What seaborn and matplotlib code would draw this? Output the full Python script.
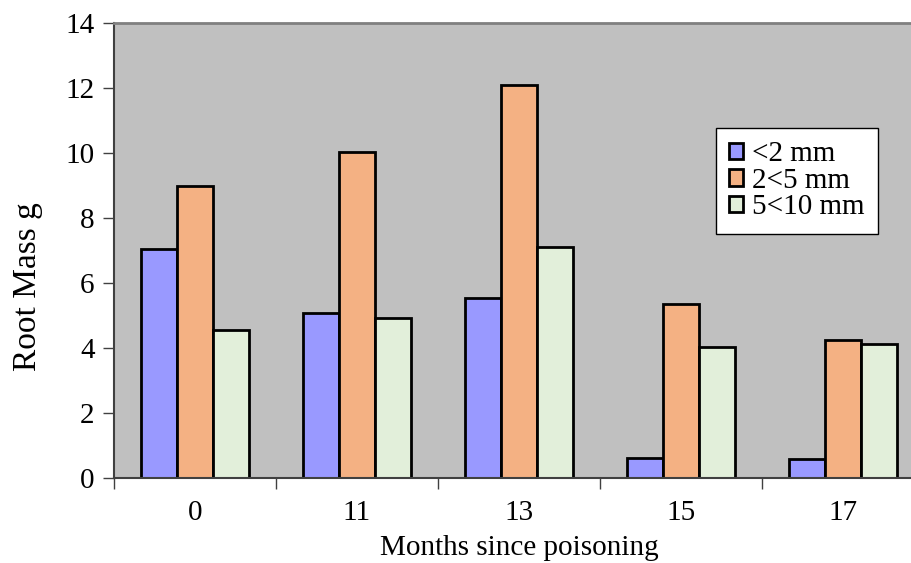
import numpy as np
import matplotlib.pyplot as plt
import pandas as pd
import seaborn as sns

months = ['0', '11', '13', '15', '17']
small = [7.05, 5.08, 5.55, 0.63, 0.58]
medium = [9.0, 10.03, 12.08, 5.35, 4.25]
large = [4.55, 4.92, 7.1, 4.03, 4.12]
sizes = ['<2 mm', '2<5 mm', '5<10 mm']

df = pd.DataFrame({
    'month': months * 3,
    'mass': small + medium + large,
    'size': [sizes[0]] * 5 + [sizes[1]] * 5 + [sizes[2]] * 5,
})

sns.set_style('white')
plt.rcParams['font.family'] = ['Liberation Serif', 'DejaVu Serif']
plt.rcParams['text.color'] = 'black'
plt.rcParams['xtick.color'] = 'black'
plt.rcParams['ytick.color'] = 'black'
plt.rcParams['axes.labelcolor'] = 'black'

fig = plt.figure(figsize=(9.12, 5.63), dpi=100)
ax = fig.add_axes([0.125, 0.151, 0.888, 0.808])
ax.set_facecolor('#C0C0C0')

sns.barplot(data=df, x='month', y='mass', hue='size', order=months, hue_order=sizes,
            palette=['#9999FF', '#F4B183', '#E2EFDA'], width=2/3, gap=0,
            edgecolor='black', linewidth=2, saturation=1, ax=ax)

ax.set_xlim(-0.5, 4.5)
ax.set_ylim(0, 14)
ax.set_yticks(range(0, 15, 2))
ax.set_xticks(range(5))
ax.set_xticks(np.arange(-0.5, 4.6, 1), minor=True)
ax.tick_params(axis='x', which='major', bottom=True, length=0, labelsize=21, pad=16)
ax.tick_params(axis='x', which='minor', bottom=True, length=8, width=1, color='#404040', direction='out')
ax.tick_params(axis='y', left=True, length=8, width=1, color='#404040', direction='out', labelsize=21, pad=6)
ax.set_xlabel('Months since poisoning', fontsize=21, labelpad=6)
ax.set_ylabel('Root Mass g', fontsize=24)
ax.yaxis.set_label_coords(-0.088, 0.42)

for s in ['left', 'bottom']:
    ax.spines[s].set_color('#404040')
    ax.spines[s].set_linewidth(1.5)
ax.spines['top'].set_color('#808080')
ax.spines['top'].set_linewidth(2)
ax.spines['right'].set_visible(False)

leg = ax.legend(loc='upper left', bbox_to_anchor=(0.743, 0.769), fontsize=21, frameon=True,
                fancybox=False, edgecolor='black', facecolor='white', framealpha=1,
                handlelength=0.5, handleheight=0.5, handletextpad=0.3, borderpad=0.45,
                labelspacing=0.02, borderaxespad=0)
leg.get_frame().set_linewidth(1)

fig.savefig('out.png', dpi=100)
